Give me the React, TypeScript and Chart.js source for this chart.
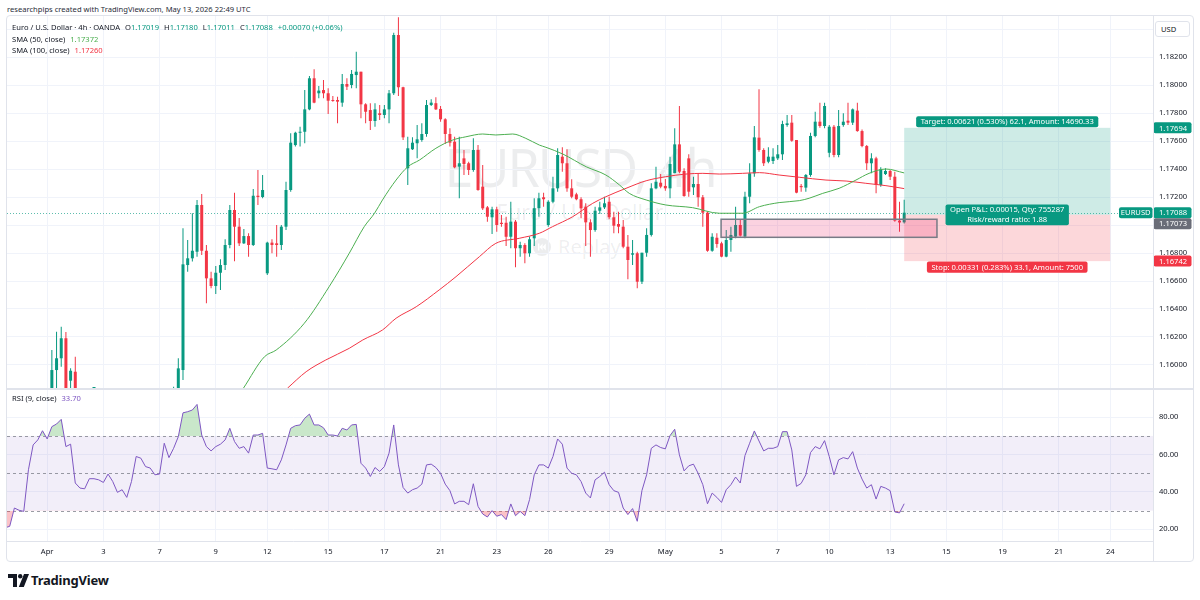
import React, { useEffect, useRef } from "react";
import { Chart, registerables } from "chart.js";

Chart.register(...registerables);

const FONT = '"Noto Sans", "Open Sans", "DejaVu Sans", sans-serif';
const TEXT = "#131722";
const GRID = "#f0f3fa";
const FRAME = "#e0e3eb";
const UP = "#089981";
const DOWN = "#f23645";
const SMA50_COLOR = "#4caf50";
const SMA100_COLOR = "#f23645";
const RSI_COLOR = "#7e57c2";
const LABEL_SIZE = 7.6;

// EUR/USD 4h bars (OANDA). Bars are numbered from the first bar of the week
// that opens on Sun 12 Apr 2026, 21:00 UTC; the series starts at bar -56.
const FIRST_BAR = -56;

const opens = [
  1.15420, 1.15350, 1.15400, 1.15380, 1.15360, 1.15350, 1.15580, 1.15710, 1.15740, 1.15790,
  1.15750, 1.15964, 1.16048, 1.16191, 1.15888, 1.15952, 1.15620, 1.15590, 1.15580, 1.15660,
  1.15660, 1.15650, 1.15630, 1.15690, 1.15630, 1.15530, 1.15530, 1.15470, 1.15580, 1.15730,
  1.15720, 1.15670, 1.15660, 1.15620, 1.15630, 1.15780, 1.15710, 1.15770, 1.15964, 1.16714,
  1.16762, 1.16809, 1.17143, 1.16816, 1.16619, 1.16564, 1.16659, 1.16714, 1.16857, 1.17107,
  1.16988, 1.16869, 1.16921, 1.16857, 1.17209, 1.17200, 1.16655, 1.16874, 1.16869, 1.16857,
  1.16988, 1.17250, 1.17571, 1.17659, 1.17666, 1.17826, 1.18048, 1.17941, 1.17964, 1.17941,
  1.17893, 1.17893, 1.17874, 1.18007, 1.18000, 1.18071, 1.18095, 1.17862, 1.17821, 1.17743,
  1.17798, 1.17786, 1.17826, 1.17941, 1.18357, 1.17984, 1.17405, 1.17541, 1.17584, 1.17607,
  1.17650, 1.17857, 1.17870, 1.17829, 1.17755, 1.17650, 1.17595, 1.17417, 1.17476, 1.17441,
  1.17393, 1.17536, 1.17274, 1.17126, 1.17055, 1.17112, 1.17016, 1.17016, 1.16916, 1.17024,
  1.16834, 1.16857, 1.16798, 1.16905, 1.17120, 1.17198, 1.17000, 1.17166, 1.17262, 1.17488,
  1.17441, 1.17262, 1.17219, 1.17184, 1.17131, 1.17019, 1.16964, 1.17102, 1.17126, 1.17166,
  1.17055, 1.17007, 1.16988, 1.16845, 1.16788, 1.16798, 1.16595, 1.16802, 1.16929, 1.17262,
  1.17302, 1.17279, 1.17262, 1.17370, 1.17576, 1.17386, 1.17476, 1.17269, 1.17293, 1.17198,
  1.17088, 1.16816, 1.16909, 1.16869, 1.16774, 1.16893, 1.16917, 1.17000, 1.16917, 1.17202,
  1.17369, 1.17624, 1.17536, 1.17452, 1.17457, 1.17476, 1.17505, 1.17714, 1.17731, 1.17607,
  1.17279, 1.17267, 1.17357, 1.17636, 1.17738, 1.17707, 1.17516, 1.17702, 1.17500, 1.17714,
  1.17745, 1.17731, 1.17817, 1.17671, 1.17564, 1.17441, 1.17476, 1.17286, 1.17364, 1.17386,
  1.17345, 1.17031, 1.17019,
];

const highs = [
  1.15460, 1.15440, 1.15430, 1.15420, 1.15400, 1.15620, 1.15750, 1.15780, 1.15800, 1.15800,
  1.16107, 1.16238, 1.16274, 1.16236, 1.15976, 1.16059, 1.15660, 1.15630, 1.15690, 1.15700,
  1.15690, 1.15680, 1.15720, 1.15710, 1.15650, 1.15580, 1.15560, 1.15610, 1.15760, 1.15780,
  1.15750, 1.15710, 1.15690, 1.15660, 1.15800, 1.15800, 1.15845, 1.16048, 1.16976, 1.16893,
  1.17084, 1.17179, 1.17221, 1.16857, 1.16666, 1.16707, 1.16755, 1.16898, 1.17143, 1.17231,
  1.17050, 1.16971, 1.16941, 1.17257, 1.17393, 1.17357, 1.16881, 1.16898, 1.17000, 1.17000,
  1.17309, 1.17655, 1.17666, 1.17702, 1.17964, 1.18064, 1.18112, 1.17993, 1.18036, 1.17976,
  1.17921, 1.17916, 1.18079, 1.18048, 1.18107, 1.18238, 1.18095, 1.17870, 1.17870, 1.17870,
  1.17857, 1.17857, 1.17964, 1.18374, 1.18484, 1.17988, 1.17631, 1.17626, 1.17714, 1.17726,
  1.17893, 1.17898, 1.17912, 1.17850, 1.17762, 1.17691, 1.17631, 1.17631, 1.17536, 1.17452,
  1.17619, 1.17571, 1.17429, 1.17136, 1.17131, 1.17131, 1.17071, 1.17059, 1.17166, 1.17036,
  1.16881, 1.16869, 1.16917, 1.17191, 1.17231, 1.17231, 1.17176, 1.17345, 1.17548, 1.17555,
  1.17541, 1.17326, 1.17231, 1.17198, 1.17155, 1.17041, 1.17131, 1.17166, 1.17202, 1.17202,
  1.17095, 1.17095, 1.17036, 1.16929, 1.16893, 1.16809, 1.16802, 1.16976, 1.17298, 1.17416,
  1.17364, 1.17329, 1.17488, 1.17691, 1.17850, 1.17405, 1.17505, 1.17345, 1.17369, 1.17214,
  1.17095, 1.16941, 1.16941, 1.16881, 1.16964, 1.16988, 1.17131, 1.17036, 1.17238, 1.17441,
  1.17707, 1.17969, 1.17548, 1.17555, 1.17548, 1.17571, 1.17745, 1.17786, 1.17786, 1.17607,
  1.17293, 1.17364, 1.17659, 1.17809, 1.17874, 1.17874, 1.17714, 1.17714, 1.17821, 1.17798,
  1.17874, 1.17833, 1.17874, 1.17683, 1.17571, 1.17512, 1.17488, 1.17412, 1.17405, 1.17393,
  1.17381, 1.17166, 1.17180,
];

const lows = [
  1.15310, 1.15320, 1.15330, 1.15320, 1.15300, 1.15340, 1.15550, 1.15660, 1.15700, 1.15720,
  1.15730, 1.15836, 1.15988, 1.15780, 1.15810, 1.15580, 1.15550, 1.15540, 1.15560, 1.15610,
  1.15620, 1.15600, 1.15610, 1.15610, 1.15500, 1.15490, 1.15440, 1.15450, 1.15560, 1.15680,
  1.15640, 1.15620, 1.15590, 1.15580, 1.15620, 1.15680, 1.15690, 1.15750, 1.15893, 1.16666,
  1.16740, 1.16774, 1.16786, 1.16441, 1.16548, 1.16507, 1.16536, 1.16679, 1.16834, 1.16741,
  1.16850, 1.16865, 1.16774, 1.16850, 1.17143, 1.17191, 1.16643, 1.16798, 1.16774, 1.16821,
  1.16964, 1.17238, 1.17560, 1.17560, 1.17584, 1.17820, 1.17870, 1.17905, 1.17905, 1.17793,
  1.17881, 1.17726, 1.17845, 1.17964, 1.17976, 1.17976, 1.17762, 1.17726, 1.17679, 1.17702,
  1.17750, 1.17762, 1.17726, 1.17929, 1.17921, 1.17607, 1.17286, 1.17536, 1.17476, 1.17595,
  1.17631, 1.17850, 1.17821, 1.17738, 1.17579, 1.17560, 1.17405, 1.17191, 1.17357, 1.17357,
  1.17381, 1.17245, 1.17107, 1.17024, 1.16936, 1.16952, 1.16988, 1.16850, 1.16834, 1.16698,
  1.16774, 1.16726, 1.16774, 1.16850, 1.17059, 1.17131, 1.16988, 1.17155, 1.17238, 1.17381,
  1.17238, 1.17191, 1.17176, 1.17048, 1.16850, 1.16774, 1.16952, 1.17079, 1.17115, 1.17041,
  1.16941, 1.16941, 1.16834, 1.16612, 1.16714, 1.16548, 1.16579, 1.16774, 1.16917, 1.17255,
  1.17262, 1.17245, 1.17191, 1.17369, 1.17369, 1.17202, 1.17202, 1.17214, 1.17131, 1.16988,
  1.16809, 1.16809, 1.16838, 1.16769, 1.16769, 1.16809, 1.16905, 1.16917, 1.16905, 1.17155,
  1.17345, 1.17524, 1.17421, 1.17441, 1.17436, 1.17464, 1.17464, 1.17702, 1.17595, 1.17226,
  1.17238, 1.17238, 1.17345, 1.17626, 1.17695, 1.17691, 1.17484, 1.17484, 1.17484, 1.17702,
  1.17714, 1.17714, 1.17666, 1.17555, 1.17393, 1.17369, 1.17226, 1.17274, 1.17357, 1.17321,
  1.17024, 1.16952, 1.17011,
];

const closes = [
  1.15350, 1.15400, 1.15380, 1.15360, 1.15350, 1.15580, 1.15710, 1.15740, 1.15790, 1.15750,
  1.15964, 1.16048, 1.16191, 1.15830, 1.15959, 1.15620, 1.15590, 1.15580, 1.15660, 1.15660,
  1.15650, 1.15630, 1.15690, 1.15630, 1.15530, 1.15550, 1.15470, 1.15580, 1.15730, 1.15720,
  1.15670, 1.15660, 1.15620, 1.15630, 1.15780, 1.15710, 1.15770, 1.15976, 1.16719, 1.16762,
  1.16816, 1.17143, 1.16816, 1.16619, 1.16564, 1.16659, 1.16714, 1.16857, 1.17107, 1.16988,
  1.16869, 1.16921, 1.16857, 1.17209, 1.17200, 1.17250, 1.16874, 1.16857, 1.16857, 1.16988,
  1.17250, 1.17588, 1.17659, 1.17666, 1.17826, 1.18048, 1.17874, 1.17960, 1.17941, 1.17888,
  1.17886, 1.17881, 1.18007, 1.17988, 1.18079, 1.18095, 1.17862, 1.17809, 1.17743, 1.17826,
  1.17786, 1.17826, 1.17941, 1.18357, 1.17984, 1.17626, 1.17548, 1.17588, 1.17612, 1.17650,
  1.17857, 1.17874, 1.17826, 1.17755, 1.17650, 1.17588, 1.17412, 1.17441, 1.17436, 1.17393,
  1.17536, 1.17250, 1.17119, 1.17059, 1.17112, 1.17000, 1.17007, 1.16916, 1.17024, 1.16834,
  1.16857, 1.16798, 1.16898, 1.17120, 1.17191, 1.17184, 1.17166, 1.17262, 1.17500, 1.17441,
  1.17262, 1.17202, 1.17184, 1.17119, 1.17019, 1.16964, 1.17102, 1.17126, 1.17155, 1.17055,
  1.16995, 1.16988, 1.16845, 1.16750, 1.16798, 1.16595, 1.16802, 1.16929, 1.17262, 1.17309,
  1.17274, 1.17262, 1.17436, 1.17576, 1.17381, 1.17207, 1.17238, 1.17293, 1.17198, 1.17088,
  1.16816, 1.16916, 1.16864, 1.16774, 1.16893, 1.16929, 1.17000, 1.16924, 1.17202, 1.17369,
  1.17626, 1.17536, 1.17441, 1.17488, 1.17488, 1.17505, 1.17721, 1.17726, 1.17602, 1.17231,
  1.17270, 1.17357, 1.17636, 1.17738, 1.17707, 1.17850, 1.17702, 1.17500, 1.17707, 1.17738,
  1.17731, 1.17826, 1.17671, 1.17564, 1.17441, 1.17476, 1.17286, 1.17398, 1.17386, 1.17345,
  1.17031, 1.17018, 1.17088,
];

// RSI (9, close), one value per bar
const rsi = [
  20.8, 21.6, 31.4, 30.2, 29.6, 51.9, 65.2, 67.9, 72.8, 68.4,
  75.0, 76.4, 78.9, 64.3, 65.6, 44.8, 42.1, 41.7, 47.1, 47.1,
  46.5, 45.1, 49.6, 45.6, 39.8, 41.2, 37.1, 45.6, 59.0, 58.1,
  53.6, 52.8, 49.2, 49.6, 66.1, 58.4, 63.4, 69.6, 82.4, 83.0,
  83.9, 86.9, 70.5, 64.3, 62.0, 64.3, 65.6, 67.9, 74.1, 67.0,
  63.4, 64.3, 60.8, 70.5, 70.5, 71.4, 52.8, 52.4, 51.9, 57.2,
  65.2, 74.1, 75.5, 75.9, 79.5, 81.7, 75.9, 75.9, 74.4, 70.5,
  70.5, 70.0, 74.1, 73.2, 75.9, 76.2, 55.4, 52.8, 48.3, 53.1,
  51.0, 53.6, 60.8, 75.9, 54.5, 42.4, 39.4, 41.2, 42.1, 44.2,
  54.5, 54.9, 53.1, 50.0, 44.2, 40.7, 33.6, 35.0, 35.0, 33.2,
  44.4, 32.3, 28.2, 26.6, 30.0, 27.0, 27.9, 25.2, 33.6, 27.3,
  29.6, 27.3, 35.9, 49.2, 54.5, 54.5, 52.8, 59.0, 68.4, 65.6,
  52.8, 50.0, 49.2, 45.6, 39.4, 36.8, 46.5, 48.3, 50.6, 43.9,
  40.7, 39.8, 31.4, 27.9, 31.1, 24.3, 40.7, 49.2, 63.4, 65.2,
  63.8, 63.1, 70.2, 73.6, 59.9, 51.3, 54.0, 54.9, 50.0, 43.9,
  33.7, 39.4, 37.1, 34.4, 41.2, 43.9, 48.0, 44.8, 59.5, 66.1,
  72.7, 67.3, 62.0, 63.4, 63.4, 64.3, 72.3, 72.3, 62.5, 43.0,
  44.6, 49.2, 61.1, 64.3, 63.1, 67.5, 59.0, 49.2, 57.2, 58.4,
  57.7, 61.6, 52.8, 46.9, 42.1, 43.9, 36.2, 43.0, 42.1, 40.7,
  29.3, 28.8, 33.7,
];

// Moving averages, sampled along the curve (bar number, value)
const sma50Bars = [-5.1, -0.6, 1.9, 7.9, 13.2, 17.5, 20.7, 22.9, 24.6, 27.5, 30, 32.5, 36, 39.6, 42.4, 46, 48.8, 52.4, 55.2, 58.1, 59.5, 63.1, 68.1, 72.3, 75.2, 77.3, 80.9, 85.1, 90.8, 96.5, 101.5, 105.1, 109.3, 113.6, 115.7, 118.6, 122.1, 125.7, 128.5, 132.1, 136];
const sma50 = [1.15834, 1.16059, 1.16107, 1.16298, 1.16559, 1.16798, 1.16988, 1.17084, 1.17179, 1.17321, 1.17416, 1.17464, 1.17548, 1.17607, 1.1763, 1.1765, 1.17643, 1.1765, 1.17619, 1.17571, 1.17555, 1.17507, 1.17416, 1.17357, 1.17286, 1.17226, 1.17179, 1.17143, 1.17124, 1.17084, 1.17084, 1.17131, 1.1716, 1.17174, 1.17191, 1.17226, 1.17262, 1.17321, 1.17369, 1.174, 1.17372];
const sma100Bars = [4.3, 8.3, 12.5, 17.5, 20.4, 24.6, 27.5, 31.8, 36.7, 40.3, 45.3, 48.8, 53.8, 58.1, 60.9, 65.2, 69.5, 72.3, 76.6, 80.9, 85.1, 89.4, 93, 96.5, 101.5, 105.1, 109.3, 113.6, 119.3, 123.6, 127.8, 132.1, 136];
const sma100 = [1.15834, 1.15952, 1.16036, 1.16119, 1.16179, 1.1625, 1.16334, 1.16416, 1.16536, 1.16631, 1.16774, 1.16869, 1.16905, 1.16941, 1.16988, 1.17059, 1.17155, 1.17202, 1.17262, 1.17316, 1.17345, 1.17364, 1.17369, 1.17364, 1.17369, 1.17374, 1.17357, 1.17341, 1.17321, 1.17314, 1.17298, 1.17281, 1.1726];

// Time axis: bar number of the first bar of each labelled day
const timeTickBars = [-47, -35, -23, -11, 0, 13, 25, 37, 49, 60, 73, 85, 97, 109, 120, 133, 145, 157, 169, 180];
const timeTickLabels = ["Apr", "3", "7", "9", "12", "15", "17", "21", "23", "26", "29", "May", "5", "7", "10", "13", "15", "19", "21", "24"];

const priceTicks = [1.16, 1.162, 1.164, 1.166, 1.168, 1.17, 1.172, 1.174, 1.176, 1.178, 1.18, 1.182, 1.184];
const hiddenPriceLabels = [1.17, 1.184];
const rsiTicks = [20, 40, 60, 80];
const rsiLevels = [70, 50, 30];

// Long position and the marked support zone
const entryPrice = 1.17073;
const targetPrice = 1.17694;
const stopPrice = 1.16742;
const positionSpan = [136, 180];
const positionQty = 755287;
const accountSize = 10000;
const zoneSpan = [96.9, 143.0];
const zonePrices = [1.16912, 1.17041];

// Visible ranges
const VIEW_BARS = [-55.58, 189.13];
const PRICE_RANGE = [1.158357, 1.184929];
const RSI_RANGE = [13.74, 94.62];

const barIndex = opens.map((_, k) => FIRST_BAR + k);
const last = opens.length - 1;
const lastPrice = closes[last];
const isUp = (k: number) => closes[k] >= opens[k];
const fmtAmount = (v: number) => String(Number(v.toFixed(2)));

Chart.defaults.font.family = FONT;

function roundRect(ctx: CanvasRenderingContext2D, x: number, y: number, w: number, h: number, r: number) {
  ctx.beginPath();
  ctx.moveTo(x + r, y);
  ctx.arcTo(x + w, y, x + w, y + h, r);
  ctx.arcTo(x + w, y + h, x, y + h, r);
  ctx.arcTo(x, y + h, x, y, r);
  ctx.arcTo(x, y, x + w, y, r);
  ctx.closePath();
}

function timeAxis(showLabels: boolean) {
  return {
    type: "linear",
    min: VIEW_BARS[0],
    max: VIEW_BARS[1],
    offset: false,
    grid: { color: GRID, drawTicks: false, offset: false },
    border: showLabels ? { display: true, color: FRAME } : { display: false },
    ticks: {
      display: showLabels,
      autoSkip: false,
      maxRotation: 0,
      padding: 6,
      color: TEXT,
      font: { size: LABEL_SIZE },
      callback: (_v: any, i: number) => timeTickLabels[i],
    },
    afterBuildTicks: (s: any) => {
      s.ticks = timeTickBars.map((v) => ({ value: v }));
    },
    afterFit: (s: any) => {
      s.height = showLabels ? 21 : 0;
      s.paddingLeft = 0;
      s.paddingRight = 0;
    },
  };
}

function valueAxis(range: number[], ticks: number[], label: (v: number) => string) {
  return {
    type: "linear",
    position: "right",
    min: range[0],
    max: range[1],
    grid: { color: GRID, drawTicks: false },
    border: { display: false },
    ticks: {
      padding: 6,
      color: TEXT,
      font: { size: LABEL_SIZE },
      callback: (v: any) => label(Number(v)),
    },
    afterBuildTicks: (s: any) => {
      s.ticks = ticks.map((v) => ({ value: v }));
    },
    afterFit: (s: any) => {
      s.width = 41;
      s.paddingTop = 0;
      s.paddingBottom = 0;
    },
  };
}

const pricePanePlugin = {
  id: "pricePane",
  beforeDatasetsDraw(chart: any) {
    const { ctx, chartArea: a, scales } = chart;
    const ly = Math.round(scales.y.getPixelForValue(lastPrice)) + 0.5;
    ctx.save();
    ctx.strokeStyle = "rgba(8,153,129,0.65)";
    ctx.lineWidth = 1;
    ctx.setLineDash([1, 2]);
    ctx.beginPath();
    ctx.moveTo(a.left, ly);
    ctx.lineTo(a.right, ly);
    ctx.stroke();
    ctx.restore();
  },
  afterDatasetsDraw(chart: any) {
    const { ctx, chartArea: a, scales } = chart;
    const { x, y } = scales;
    ctx.save();
    ctx.beginPath();
    ctx.rect(a.left, a.top, a.right - a.left, a.bottom - a.top);
    ctx.clip();

    // position zones
    const x1 = x.getPixelForValue(positionSpan[0]);
    const x2 = x.getPixelForValue(positionSpan[1]);
    const yT = y.getPixelForValue(targetPrice);
    const yE = y.getPixelForValue(entryPrice);
    const yS = y.getPixelForValue(stopPrice);
    ctx.fillStyle = "rgba(8,153,129,0.2)";
    ctx.fillRect(x1, yT, x2 - x1, yE - yT);
    ctx.fillStyle = "rgba(242,54,69,0.2)";
    ctx.fillRect(x1, yE, x2 - x1, yS - yE);

    // support zone
    const zx1 = x.getPixelForValue(zoneSpan[0]);
    const zx2 = x.getPixelForValue(zoneSpan[1]);
    const zy1 = y.getPixelForValue(zonePrices[1]);
    const zy2 = y.getPixelForValue(zonePrices[0]);
    ctx.fillStyle = "rgba(233,30,99,0.2)";
    ctx.fillRect(zx1, zy1, zx2 - zx1, zy2 - zy1);
    ctx.strokeStyle = "#787b86";
    ctx.lineWidth = 1.5;
    ctx.strokeRect(zx1, zy1, zx2 - zx1, zy2 - zy1);

    // labels
    const tgt = targetPrice - entryPrice;
    const stp = entryPrice - stopPrice;
    const pnl = lastPrice - entryPrice;
    const cx = (x1 + x2) / 2;
    ctx.font = `${LABEL_SIZE}px ${FONT}`;
    ctx.textAlign = "center";
    ctx.textBaseline = "middle";
    const lh = 9.6;
    const drawLabel = (lines: string[], bg: string, top: number) => {
      const w = Math.max(...lines.map((l) => ctx.measureText(l).width)) + 9;
      const h = lines.length * lh + 1.5;
      roundRect(ctx, cx - w / 2, top, w, h, 2);
      ctx.fillStyle = bg;
      ctx.fill();
      ctx.fillStyle = "#ffffff";
      lines.forEach((l, i) => ctx.fillText(l, cx, top + 1 + lh * (i + 0.5)));
      return h;
    };
    const tLine = `Target: ${tgt.toFixed(5)} (${((tgt / entryPrice) * 100).toFixed(3)}%) ${(tgt * 1e4).toFixed(1)}, Amount: ${fmtAmount(accountSize + positionQty * tgt)}`;
    const sLine = `Stop: ${stp.toFixed(5)} (${((stp / entryPrice) * 100).toFixed(3)}%) ${(stp * 1e4).toFixed(1)}, Amount: ${fmtAmount(accountSize - positionQty * stp)}`;
    const pLines = [`Open P&L: ${pnl.toFixed(5)}, Qty: ${positionQty}`, `Risk/reward ratio: ${(tgt / stp).toFixed(2)}`];
    drawLabel([tLine], UP, yT - 0.5 - (lh + 1.5));
    drawLabel(pLines, UP, yE - (2 * lh + 1.5) / 2);
    drawLabel([sLine], DOWN, yS + 0.5);
    ctx.restore();
  },
  afterDraw(chart: any) {
    const { ctx, chartArea: a, scales } = chart;
    const y = scales.y;
    ctx.save();
    ctx.font = `${LABEL_SIZE}px ${FONT}`;
    ctx.textBaseline = "middle";
    const tag = (price: number, bg: string, shift = 0) => {
      const py = y.getPixelForValue(price) + shift;
      roundRect(ctx, a.right + 0.5, py - 5.5, 38, 11, 2);
      ctx.fillStyle = bg;
      ctx.fill();
      ctx.fillStyle = "#ffffff";
      ctx.textAlign = "left";
      ctx.fillText(price.toFixed(5), a.right + 6, py + 0.5);
      return py;
    };
    tag(targetPrice, UP);
    const lp = tag(lastPrice, UP);
    tag(stopPrice, DOWN);
    const ep = y.getPixelForValue(entryPrice);
    tag(entryPrice, "#6a6d78", lp + 11 - ep);
    // symbol tag beside the last price
    roundRect(ctx, a.right - 34, lp - 5.5, 33.5, 11, 2);
    ctx.fillStyle = UP;
    ctx.fill();
    ctx.fillStyle = "#ffffff";
    ctx.textAlign = "center";
    ctx.fillText("EURUSD", a.right - 17.25, lp + 0.5);
    ctx.restore();
  },
};

const rsiPanePlugin = {
  id: "rsiPane",
  beforeDatasetsDraw(chart: any) {
    const { ctx, chartArea: a, scales } = chart;
    const y = scales.y;
    const top = y.getPixelForValue(rsiLevels[0]);
    const bottom = y.getPixelForValue(rsiLevels[2]);
    ctx.save();
    ctx.fillStyle = "rgba(126,87,194,0.1)";
    ctx.fillRect(a.left, top, a.right - a.left, bottom - top);
    ctx.strokeStyle = "rgba(120,123,134,0.75)";
    ctx.lineWidth = 1;
    ctx.setLineDash([3, 3]);
    rsiLevels.forEach((lv) => {
      const py = Math.round(y.getPixelForValue(lv)) + 0.5;
      ctx.beginPath();
      ctx.moveTo(a.left, py);
      ctx.lineTo(a.right, py);
      ctx.stroke();
    });
    ctx.restore();
  },
};

const baseOptions = {
  animation: false,
  responsive: false,
  events: [],
  layout: { padding: 0 },
  plugins: { legend: { display: false }, tooltip: { enabled: false } },
};

function makePriceChart(canvas: HTMLCanvasElement) {
  return new Chart(canvas, {
    type: "bar",
    data: {
      datasets: [
        {
          type: "line",
          label: "SMA 50",
          data: sma50Bars.map((b, k) => ({ x: b, y: sma50[k] })),
          borderColor: SMA50_COLOR,
          borderWidth: 1,
          pointRadius: 0,
          cubicInterpolationMode: "monotone",
          order: 0,
        },
        {
          type: "line",
          label: "SMA 100",
          data: sma100Bars.map((b, k) => ({ x: b, y: sma100[k] })),
          borderColor: SMA100_COLOR,
          borderWidth: 1,
          pointRadius: 0,
          cubicInterpolationMode: "monotone",
          order: 1,
        },
        {
          type: "bar",
          label: "Body",
          data: barIndex.map((b, k) => ({ x: b, y: [opens[k], closes[k]] })),
          backgroundColor: (c: any) => (isUp(c.dataIndex) ? UP : DOWN),
          barThickness: 3,
          minBarLength: 1,
          inflateAmount: 0,
          grouped: false,
          clip: 0,
          order: 2,
        },
        {
          type: "bar",
          label: "Wick",
          data: barIndex.map((b, k) => ({ x: b, y: [lows[k], highs[k]] })),
          backgroundColor: (c: any) => (isUp(c.dataIndex) ? UP : DOWN),
          barThickness: 1,
          inflateAmount: 0,
          grouped: false,
          clip: 0,
          order: 3,
        },
      ],
    } as any,
    options: {
      ...baseOptions,
      scales: {
        x: timeAxis(false),
        y: valueAxis(PRICE_RANGE, priceTicks, (v) =>
          hiddenPriceLabels.some((h) => Math.abs(h - v) < 1e-9) ? "" : v.toFixed(5)
        ),
      },
    } as any,
    plugins: [pricePanePlugin],
  });
}

function makeRsiChart(canvas: HTMLCanvasElement) {
  const points = barIndex.map((b, k) => ({ x: b, y: rsi[k] }));
  return new Chart(canvas, {
    type: "line",
    data: {
      datasets: [
        {
          label: "RSI",
          data: points,
          borderColor: RSI_COLOR,
          borderWidth: 1,
          pointRadius: 0,
          fill: { target: { value: 70 }, above: "rgba(76,175,80,0.3)", below: "rgba(0,0,0,0)" },
        },
        {
          label: "RSI oversold",
          data: points,
          borderColor: "rgba(0,0,0,0)",
          borderWidth: 0,
          pointRadius: 0,
          fill: { target: { value: 30 }, above: "rgba(0,0,0,0)", below: "rgba(242,54,69,0.3)" },
        },
      ],
    } as any,
    options: {
      ...baseOptions,
      scales: {
        x: timeAxis(true),
        y: valueAxis(RSI_RANGE, rsiTicks, (v) => v.toFixed(2)),
      },
    } as any,
    plugins: [rsiPanePlugin],
  });
}

const small: React.CSSProperties = {
  position: "absolute",
  fontFamily: FONT,
  fontSize: LABEL_SIZE,
  lineHeight: "10px",
  color: TEXT,
  whiteSpace: "nowrap",
};

function LegendRow({ top, children }: { top: number; children: React.ReactNode }) {
  return (
    <div style={{ ...small, left: 12, top, display: "flex", gap: 5 }}>
      {children}
    </div>
  );
}

export default function App() {
  const priceRef = useRef<HTMLCanvasElement>(null);
  const rsiRef = useRef<HTMLCanvasElement>(null);

  useEffect(() => {
    const p = makePriceChart(priceRef.current as HTMLCanvasElement);
    const r = makeRsiChart(rsiRef.current as HTMLCanvasElement);
    return () => {
      p.destroy();
      r.destroy();
    };
  }, []);

  const change = closes[last] - closes[last - 1];
  const changePct = (change / closes[last - 1]) * 100;
  const sign = change >= 0 ? "+" : "";
  const ohlcColor = isUp(last) ? UP : DOWN;
  const faint = "rgba(19,23,34,0.08)";

  return (
    <div style={{ position: "fixed", left: 0, top: 0, width: 1200, height: 600, background: "#ffffff", overflow: "hidden" }}>
      <div style={{ ...small, left: 7, top: 4, color: "#2a2e39" }}>
        researchpips created with TradingView.com, May 13, 2026 22:49 UTC
      </div>

      <div style={{ position: "absolute", left: 6, top: 15, width: 1186, height: 545, border: `1px solid ${FRAME}`, borderRadius: 4 }} />

      {/* symbol watermark */}
      <div style={{ position: "absolute", left: 580, top: 141, transform: "translateX(-50%)", fontFamily: FONT, fontSize: 52, lineHeight: "52px", letterSpacing: -2, color: faint, whiteSpace: "nowrap" }}>
        EURUSD, 4h
      </div>
      <div style={{ position: "absolute", left: 580, top: 201, transform: "translateX(-50%)", fontFamily: FONT, fontSize: 21, lineHeight: "22px", color: faint, whiteSpace: "nowrap" }}>
        Euro / U.S. Dollar
      </div>
      <div style={{ position: "absolute", left: 533, top: 236, display: "flex", alignItems: "center", gap: 7, fontFamily: FONT, fontSize: 20, lineHeight: "22px", color: faint, whiteSpace: "nowrap" }}>
        <svg width="18" height="18" viewBox="0 0 18 18">
          <circle cx="9" cy="9" r="9" fill={faint} />
          <path d="M5 5.5h1.4v7H5z M12.8 5.5v7L9.6 9z M9.6 5.5v7L6.4 9z" fill="#ffffff" />
        </svg>
        <span>Replay</span>
      </div>

      <canvas ref={priceRef} width={1187} height={372} style={{ position: "absolute", left: 7, top: 16, width: 1187, height: 372 }} />
      <canvas ref={rsiRef} width={1187} height={172} style={{ position: "absolute", left: 7, top: 390, width: 1187, height: 172 }} />

      <div style={{ position: "absolute", left: 7, top: 388, width: 1187, height: 2, background: FRAME }} />
      <div style={{ position: "absolute", left: 1153, top: 16, width: 1, height: 546, background: FRAME }} />

      <LegendRow top={22}>
        <span>Euro / U.S. Dollar · 4h · OANDA</span>
        <span>
          <span>O</span><span style={{ color: ohlcColor }}>{opens[last].toFixed(5)}</span>
        </span>
        <span>
          <span>H</span><span style={{ color: ohlcColor }}>{highs[last].toFixed(5)}</span>
        </span>
        <span>
          <span>L</span><span style={{ color: ohlcColor }}>{lows[last].toFixed(5)}</span>
        </span>
        <span>
          <span>C</span><span style={{ color: ohlcColor }}>{closes[last].toFixed(5)}</span>
        </span>
        <span style={{ color: ohlcColor }}>
          {sign}{change.toFixed(5)} ({sign}{changePct.toFixed(2)}%)
        </span>
      </LegendRow>
      <LegendRow top={34}>
        <span>SMA (50, close)</span>
        <span style={{ color: SMA50_COLOR }}>{sma50[sma50.length - 1].toFixed(5)}</span>
      </LegendRow>
      <LegendRow top={45}>
        <span>SMA (100, close)</span>
        <span style={{ color: SMA100_COLOR }}>{sma100[sma100.length - 1].toFixed(5)}</span>
      </LegendRow>
      <LegendRow top={393}>
        <span>RSI (9, close)</span>
        <span style={{ color: RSI_COLOR }}>{rsi[rsi.length - 1].toFixed(2)}</span>
      </LegendRow>

      <div style={{ position: "absolute", left: 1155, top: 21, width: 33, height: 14, border: `1px solid ${FRAME}`, borderRadius: 3, background: "#fff" }}>
        <div style={{ ...small, left: 5, top: 2 }}>USD</div>
      </div>

      {/* TradingView logo */}
      <svg style={{ position: "absolute", left: 8, top: 574 }} width="21" height="13" viewBox="0 0 21 13">
        <path d="M0 0h9v13H5V4H0z" fill={TEXT} />
        <circle cx="12.2" cy="2.2" r="2.2" fill={TEXT} />
        <path d="M16 0h5l-5.2 13h-5z" fill={TEXT} />
      </svg>
      <div style={{ position: "absolute", left: 31, top: 572, fontFamily: FONT, fontWeight: 700, fontSize: 13, lineHeight: "16px", color: TEXT, letterSpacing: -0.2 }}>
        TradingView
      </div>
    </div>
  );
}
